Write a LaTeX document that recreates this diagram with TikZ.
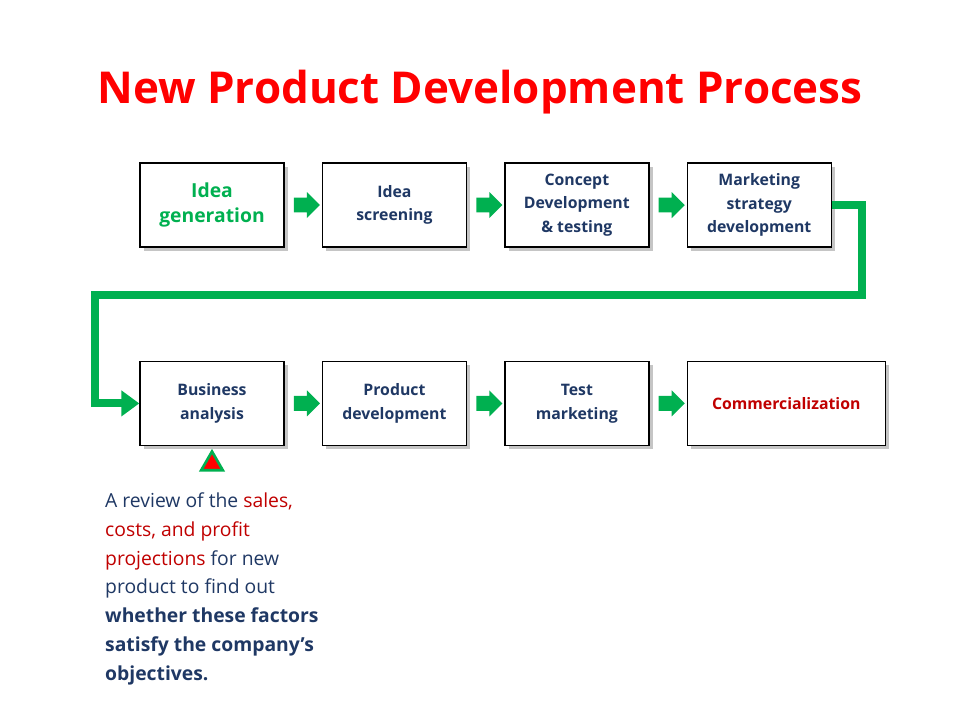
\documentclass[tikz,border=0pt]{standalone}
\usepackage{fontspec}
\setmainfont{Open Sans}
\usepackage{xcolor}
\definecolor{StepGreen}{RGB}{0,176,80}
\definecolor{TitleRed}{RGB}{255,0,0}
\definecolor{TextBlue}{RGB}{31,56,100}
\definecolor{NoteRed}{RGB}{192,0,0}
\usetikzlibrary{positioning, shapes.arrows, shapes.geometric, arrows.meta, calc, shadows}

\begin{document}
\begin{tikzpicture}[
    node distance=0.74cm,
    stepbox/.style={rectangle, draw=black, thick, fill=white, minimum height=1.68cm, minimum width=2.88cm,
        align=center, font=\fontsize{9}{13.5}\selectfont\bfseries, text=TextBlue,
        drop shadow={shadow xshift=0.08cm, shadow yshift=-0.08cm, fill=black!45}},
    flow/.style={single arrow, draw=none, fill=StepGreen, minimum height=0.52cm, minimum width=0.52cm,
        single arrow head extend=0.05cm, inner sep=0.06cm},
    link/.style={draw=StepGreen, line width=4.5pt, -{Triangle[length=0.36cm, width=0.5cm]}},
]
\useasboundingbox (0,0) rectangle (19.2,-14.4);

% Title
\node[font=\fontsize{25}{30}\selectfont\bfseries, text=TitleRed] (title) at (9.6,-1.84) {New Product Development Process};

% First row
\node[stepbox, font=\fontsize{11}{14}\selectfont\bfseries, text=StepGreen] (idea) at (4.24,-4.1) {Idea\\generation};
\node[stepbox, right=of idea] (screen) {Idea\\screening};
\node[stepbox, right=of screen] (concept) {Concept\\Development\\\& testing};
\node[stepbox, right=of concept] (strategy) {Marketing\\strategy\\development};

% Second row
\node[stepbox, below=2.26cm of idea] (business) {Business\\analysis};
\node[stepbox, right=of business] (product) {Product\\development};
\node[stepbox, right=of product] (test) {Test\\marketing};
\node[stepbox, right=of test, minimum width=3.96cm, text=NoteRed] (commerce) {Commercialization};

% Block arrows between steps
\foreach \a/\b in {idea/screen, screen/concept, concept/strategy, business/product, product/test, test/commerce}
    \node[flow] (\a-\b) at ($(\a.east)!0.5!(\b.west)$) {};

% Link from first row to second row
\coordinate (turnA) at ($(strategy.east)+(0.6,0)$);
\coordinate (turnB) at ($(turnA|-0,-5.9)$);
\coordinate (turnC) at (1.9,-5.9);
\draw[link] (strategy.east) -- (turnA) -- (turnB) -- (turnC) |- (business.west);

% Marker and note
\node[regular polygon, regular polygon sides=3, fill=red, draw=StepGreen, line width=1.5pt,
    minimum size=0.5cm, inner sep=0pt] (mark) at (4.24,-9.28) {};
\node[anchor=north west, align=left, text=TextBlue, font=\fontsize{11}{16.5}\selectfont] (note) at (1.98,-9.72) {%
    A review of the \textcolor{NoteRed}{sales,}\\
    \textcolor{NoteRed}{costs, and profit}\\
    \textcolor{NoteRed}{projections} for new\\
    product to find out\\
    \textbf{whether these factors}\\
    \textbf{satisfy the company’s}\\
    \textbf{objectives.}};

\end{tikzpicture}
\end{document}
